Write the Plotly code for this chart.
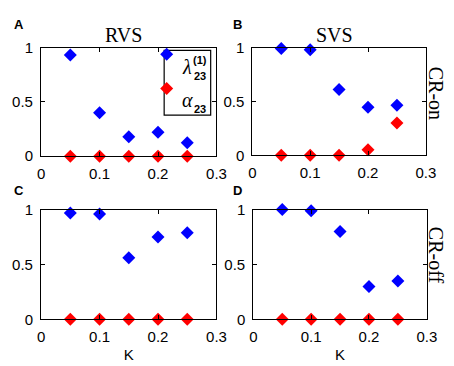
import plotly.graph_objects as go

K = [0.05, 0.10, 0.15, 0.20, 0.25]
# lambda_23^(1) values per panel
lam_A = [0.93, 0.40, 0.18, 0.22, 0.125]
lam_B = [0.99, 0.98, 0.61, 0.445, 0.465]
lam_C = [0.97, 0.96, 0.56, 0.75, 0.79]
lam_D = [1.00, 0.99, 0.80, 0.30, 0.35]
# alpha_23 values per panel
alp_A = [0, 0, 0, 0, 0]
alp_B = [0, 0, 0, 0.05, 0.30]
alp_C = [0, 0, 0, 0, 0]
alp_D = [0, 0, 0, 0, 0]

xticks = [0, 0.1, 0.2, 0.3]
xticklabels = ["0", "0.1", "0.2", "0.3"]
yticks = [0, 0.5, 1]
yticklabels = ["0", "0.5", "1"]

W, H = 454, 366
BLUE = "#0000FF"
RED = "#FF0000"

fig = go.Figure()
panels = [
    ("x", "y", lam_A, alp_A, True),
    ("x2", "y2", lam_B, alp_B, False),
    ("x3", "y3", lam_C, alp_C, False),
    ("x4", "y4", lam_D, alp_D, False),
]
for xa, ya, lam, alp, leg in panels:
    fig.add_trace(go.Scatter(
        x=K, y=lam, mode="markers", xaxis=xa, yaxis=ya, cliponaxis=False,
        marker=dict(symbol="diamond", size=10, color=BLUE),
        name=" ", legendgroup="lam", showlegend=leg))
    fig.add_trace(go.Scatter(
        x=K, y=alp, mode="markers", xaxis=xa, yaxis=ya, cliponaxis=False,
        marker=dict(symbol="diamond", size=10, color=RED),
        name=" ", legendgroup="alp", showlegend=leg))

def px_x(a, b):
    return [a / W, b / W]

def px_y(top, bottom):
    return [(H - bottom) / H, (H - top) / H]

xdom = {"": px_x(30, 211), "2": px_x(248, 427), "3": px_x(30, 211), "4": px_x(249, 428)}
ydom = {"": px_y(32, 146), "2": px_y(32, 145), "3": px_y(202, 317), "4": px_y(202, 317)}

sans = "Arial, Liberation Sans, sans-serif"
axfont = dict(family=sans, size=15, color="black")
common = dict(showline=True, linecolor="black", linewidth=1.2, mirror="ticks",
              ticks="inside", ticklen=4, tickcolor="black", showgrid=False,
              zeroline=False, tickfont=axfont)
for s in ["", "2", "3", "4"]:
    xa = dict(domain=xdom[s], range=[0, 0.3], tickvals=xticks,
              ticktext=xticklabels, anchor=f"y{s}", ticklabelstandoff=4, **common)
    if s in ("3", "4"):
        xa.update(title=dict(text="K", font=dict(family=sans, size=15, color="black"), standoff=5))
    fig.update_layout(**{
        f"xaxis{s}": xa,
        f"yaxis{s}": dict(domain=ydom[s], range=[0, 1], tickvals=yticks,
                           ticktext=yticklabels, anchor=f"x{s}", ticklabelstandoff=4, **common),
    })

serif = "Times New Roman, Liberation Serif, serif"
ann = [
    dict(x=115, y=19, text="RVS", font=dict(family=serif, size=20)),
    dict(x=333, y=19, text="SVS", font=dict(family=serif, size=20)),
    dict(x=437, y=80, text="CR-on", textangle=90, font=dict(family=serif, size=20)),
    dict(x=437, y=250, text="CR-off", textangle=90, font=dict(family=serif, size=20)),
    dict(x=7, y=8, text="<b>A</b>", font=dict(family=sans, size=13)),
    dict(x=233, y=8, text="<b>B</b>", font=dict(family=sans, size=13)),
    dict(x=7, y=182, text="<b>C</b>", font=dict(family=sans, size=13)),
    dict(x=233, y=182, text="<b>D</b>", font=dict(family=sans, size=13)),
    # legend labels
    dict(x=181, y=52, text="<i>λ</i>", font=dict(family=serif, size=20)),
    dict(x=194, y=45, text="<b>(1)</b>", font=dict(family=sans, size=11)),
    dict(x=194, y=62, text="<b>23</b>", font=dict(family=sans, size=11)),
    dict(x=181, y=87, text="<i>α</i>", font=dict(family=serif, size=20)),
    dict(x=194, y=96, text="<b>23</b>", font=dict(family=sans, size=11)),
]
for a in ann:
    a["x"] = a["x"] / W
    a["y"] = 1 - a["y"] / H
    a.update(xref="paper", yref="paper", showarrow=False, xanchor="center", yanchor="middle")
    a["font"]["color"] = "black"

fig.update_layout(
    width=W, height=H, margin=dict(l=0, r=0, t=0, b=0),
    paper_bgcolor="white", plot_bgcolor="white",
    annotations=ann,
    shapes=[dict(type="rect", xref="paper", yref="paper",
                 x0=157 / W, x1=205 / W, y0=1 - 103 / H, y1=1 - 35 / H,
                 line=dict(color="black", width=1.2), fillcolor="rgba(0,0,0,0)")],
    legend=dict(x=139 / W, y=1 - 16 / H, xanchor="left", yanchor="top",
                borderwidth=0, bgcolor="rgba(0,0,0,0)",
                font=dict(family=serif, size=24, color="black"),
                itemwidth=30, tracegroupgap=0),
)
fig.write_html("out.html")
